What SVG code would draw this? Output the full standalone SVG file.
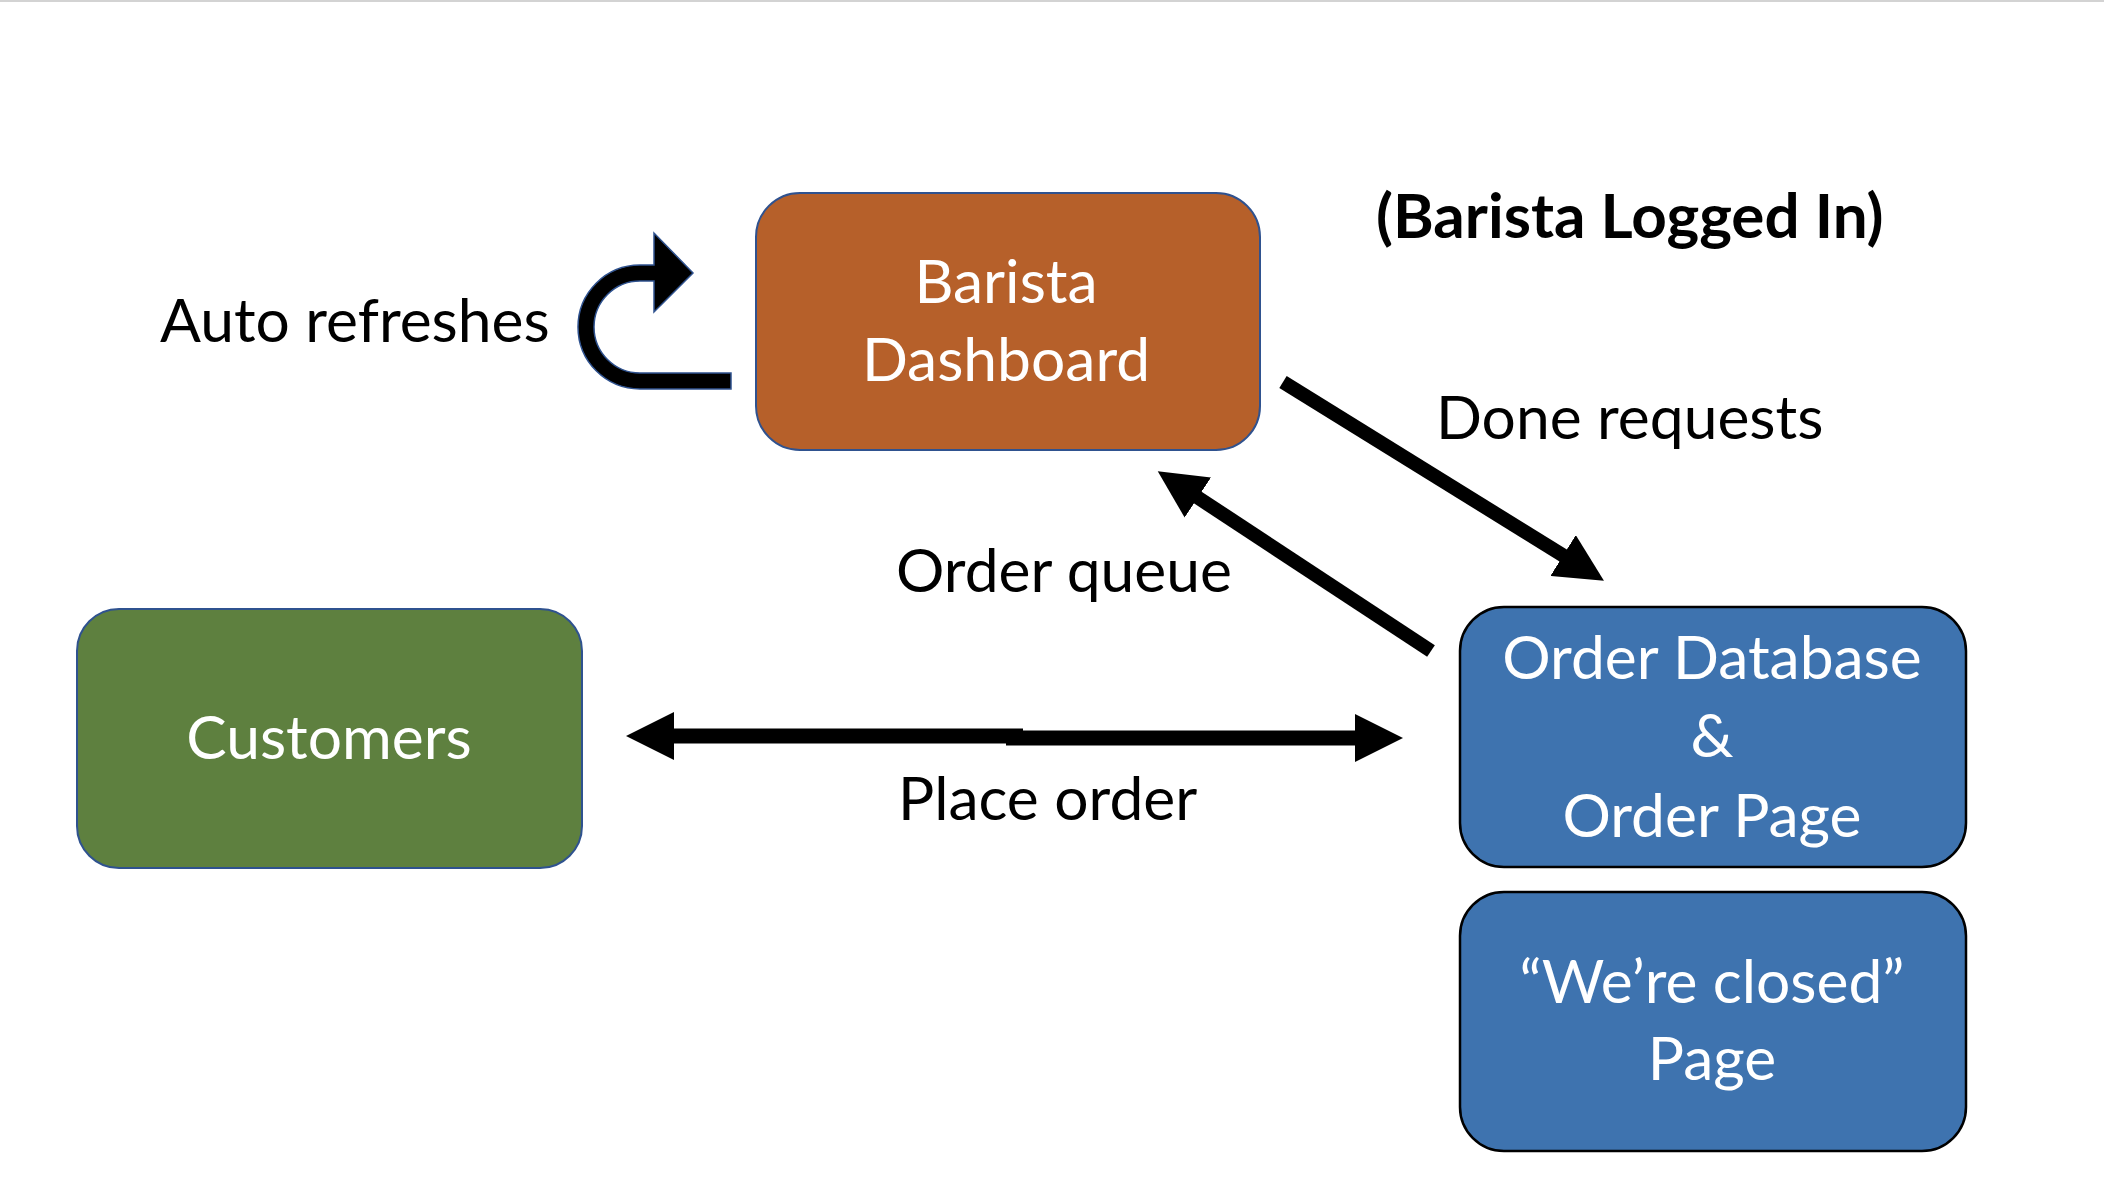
<svg xmlns="http://www.w3.org/2000/svg" width="2104" height="1186" viewBox="0 0 2104 1186">
<style>
  text { font-family: Lato, "Liberation Sans", sans-serif; font-size: 60.5px; }
  .lbl { fill: #000000; }
  .node-text { fill: #ffffff; text-anchor: middle; }
  .title { font-weight: bold; font-size: 62px; }
  .orange { fill: #B6602A; stroke: #2F528F; stroke-width: 2; }
  .green { fill: #5E803F; stroke: #2F528F; stroke-width: 2; }
  .blue { fill: #3E73AF; stroke: #000000; stroke-width: 2.5; }
  .conn { stroke: #000000; fill: none; marker-end: url(#head); }
</style>
<defs>
  <marker id="head" viewBox="0 0 48 48" refX="1" refY="24" markerWidth="48" markerHeight="48" markerUnits="userSpaceOnUse" orient="auto">
    <path d="M0,0 L48,24 L0,48 Z" fill="#000000"/>
  </marker>
</defs>
<rect x="0" y="0" width="2104" height="2" fill="#d3d3d3"/>

<g id="barista-dashboard">
  <rect class="orange" x="756" y="193" width="504" height="257" rx="44" ry="44"/>
  <text class="node-text" x="1006" y="303">Barista</text>
  <text class="node-text" x="1006" y="381">Dashboard</text>
</g>

<g id="auto-refresh">
  <path d="M731,389 L640,389 A62,62 0 0 1 640,265 L654,265 L654,233 L693,273 L654,312 L654,281 L640,281 A46,46 0 0 0 640,373 L731,373 Z" fill="#000000" stroke="#2F528F" stroke-width="1.5"/>
  <text class="lbl" x="160" y="342">Auto refreshes</text>
</g>

<g id="customers">
  <rect class="green" x="77" y="609" width="505" height="259" rx="42" ry="42"/>
  <text class="node-text" x="329" y="759">Customers</text>
</g>

<g id="order-database">
  <rect class="blue" x="1460" y="607" width="506" height="260" rx="44" ry="44"/>
  <text class="node-text" x="1712" y="679">Order Database</text>
  <text class="node-text" x="1712" y="757">&amp;</text>
  <text class="node-text" x="1712" y="837">Order Page</text>
</g>

<g id="closed-page">
  <rect class="blue" x="1460" y="892" width="506" height="259" rx="44" ry="44"/>
  <text class="node-text" x="1712" y="1003">“We’re closed”</text>
  <text class="node-text" x="1712" y="1080">Page</text>
</g>

<g id="title">
  <text class="lbl title" x="1376" y="238">(Barista Logged In)</text>
</g>

<g id="connectors">
  <line class="conn" x1="1283" y1="382" x2="1564" y2="556" stroke-width="14"/>
  <line class="conn" x1="1431" y1="651" x2="1197" y2="497" stroke-width="14"/>
  <line class="conn" x1="1023" y1="736" x2="673" y2="736" stroke-width="15"/>
  <line class="conn" x1="1006" y1="738" x2="1356" y2="738" stroke-width="15"/>
  <text class="lbl" x="1436" y="439">Done requests</text>
  <text class="lbl" x="896" y="592">Order queue</text>
  <text class="lbl" x="898" y="820">Place order</text>
</g>
</svg>
